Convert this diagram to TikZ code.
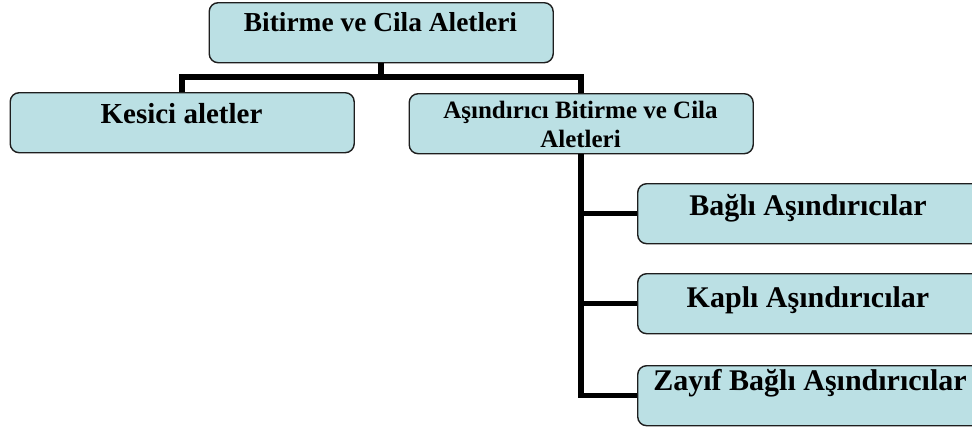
\documentclass[tikz,border=0pt]{standalone}
\usepackage{fontspec}
\setmainfont{Liberation Serif}
\definecolor{boxfill}{RGB}{187,224,228}
\definecolor{boxline}{RGB}{30,30,30}
\begin{document}
\begin{tikzpicture}[x=1pt,y=-1pt,
  box/.style={draw=boxline,line width=1.4pt,fill=boxfill,rounded corners=9pt,
    minimum width=344pt,minimum height=60pt,inner sep=0pt,anchor=north west},
  lbl/.style={font=\bfseries,anchor=base,inner sep=0pt,align=center},
  conn/.style={line width=5.5pt,black,line join=miter}]
\clip (0,0) rectangle (972,429);
\fill[white] (0,0) rectangle (972,429);
% boxes
\node[box] (top) at (208.5,2) {};
\node[box] (kes) at (9.5,92) {};
\node[box] (mid) at (408.5,93) {};
\node[box] (r1) at (637,183) {};
\node[box] (r2) at (637,273) {};
\node[box] (r3) at (637,365) {};
% bus
\coordinate (bus) at (0,77);
\draw[conn] (top.south) -- (top.south |- bus);
\draw[conn] (kes.north) -- (kes.north |- bus) -- (mid.north |- bus) -- (mid.north);
\draw[conn] (mid.south) -- (mid.south |- r3.west) -- (r3.west);
\draw[conn] (mid.south |- r1.west) -- (r1.west);
\draw[conn] (mid.south |- r2.west) -- (r2.west);
% labels
\node[lbl,font=\bfseries\fontsize{27.4}{29}\selectfont] (ttop) at (380.5,31) {Bitirme ve Cila Aletleri};
\node[lbl,font=\bfseries\fontsize{29}{31}\selectfont] (tkes) at (181.5,123) {Kesici aletler};
\node[lbl,font=\bfseries\fontsize{25}{29}\selectfont] (tmid) at (580.5,147) {Aşındırıcı Bitirme ve Cila\\Aletleri};
\node[lbl,font=\bfseries\fontsize{30}{32}\selectfont] (tr1) at (808,215) {Bağlı Aşındırıcılar};
\node[lbl,font=\bfseries\fontsize{30}{32}\selectfont] (tr2) at (808,307) {Kaplı Aşındırıcılar};
\node[lbl,font=\bfseries\fontsize{30}{32}\selectfont] (tr3) at (810,390) {Zayıf Bağlı Aşındırıcılar};
\end{tikzpicture}
\end{document}
